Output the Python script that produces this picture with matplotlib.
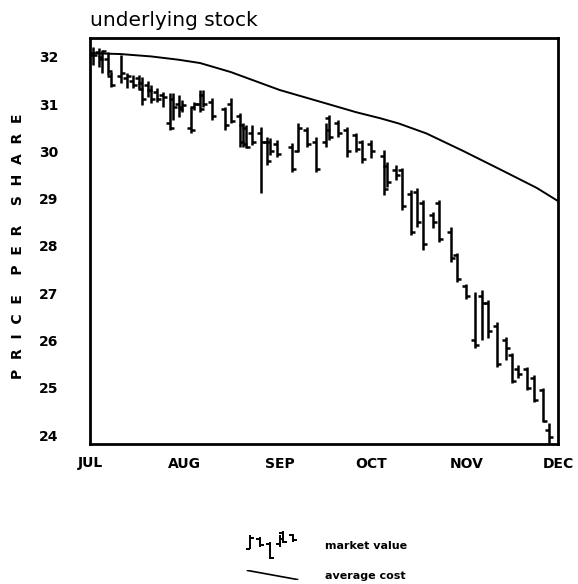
import numpy as np
import matplotlib.pyplot as plt

plt.rcParams['font.family'] = ['DejaVu Sans']

# trading days counted from Jul 1
days = [1, 3, 4, 6, 7, 10, 12, 14, 16, 17, 19, 20, 22, 24, 26, 27, 29, 30, 33, 34,
        36, 37, 40, 44, 46, 49, 50, 51, 53, 56, 58, 59, 61, 66, 68, 71, 74, 77, 78, 81,
        84, 87, 89, 92, 96, 97, 100, 102, 105, 107, 109, 112, 114, 118, 120, 123, 126,
        128, 130, 133, 136, 138, 140, 143, 145, 148, 150]
highs = [32.21, 32.19, 32.15, 32.10, 31.68, 32.04, 31.66, 31.62, 31.62, 31.58,
         31.50, 31.40, 31.34, 31.26, 31.24, 31.24, 31.20, 31.09, 30.94, 31.05,
         31.30, 31.30, 31.13, 30.94, 31.13, 30.81, 30.60, 30.56, 30.56, 30.52,
         30.30, 30.28, 30.24, 30.18, 30.60, 30.52, 30.30, 30.60, 30.77, 30.67,
         30.52, 30.39, 30.24, 30.24, 30.03, 29.78, 29.71, 29.65, 29.19, 29.23,
         28.97, 28.72, 28.97, 28.40, 27.85, 27.20, 27.03, 27.07, 26.86, 26.39,
         26.08, 25.73, 25.48, 25.44, 25.27, 25.00, 24.25]
lows = [31.83, 31.79, 31.66, 31.62, 31.37, 31.45, 31.34, 31.34, 31.30, 30.98,
        31.15, 31.03, 31.05, 30.94, 30.46, 30.67, 30.73, 30.84, 30.39, 30.88,
        30.84, 30.94, 30.67, 30.46, 30.60, 30.10, 30.10, 30.07, 30.14, 29.12,
        29.71, 29.93, 29.88, 29.57, 29.99, 30.10, 29.57, 30.10, 30.24, 30.30,
        29.88, 29.99, 29.76, 29.86, 29.08, 29.25, 29.40, 28.76, 28.23, 28.40,
        27.92, 28.38, 28.08, 27.66, 27.24, 26.88, 25.84, 26.00, 26.06, 25.44,
        25.59, 25.10, 25.20, 24.95, 24.70, 24.28, 23.83]
opens = [32.05, 32.10, 32.00, 31.95, 31.60, 31.60, 31.55, 31.50, 31.55, 31.45,
         31.40, 31.30, 31.25, 31.20, 30.60, 31.10, 31.00, 30.95, 30.50, 30.95,
         31.00, 31.20, 31.05, 30.90, 31.00, 30.75, 30.55, 30.50, 30.40, 30.40,
         30.20, 30.20, 30.15, 30.10, 30.00, 30.45, 30.20, 30.20, 30.70, 30.60,
         30.45, 30.35, 30.20, 30.15, 29.90, 29.70, 29.60, 29.60, 29.10, 29.15,
         28.90, 28.65, 28.90, 28.30, 27.80, 27.15, 26.00, 26.95, 26.80, 26.30,
         26.00, 25.70, 25.40, 25.40, 25.20, 24.95, 24.10]
closes = [32.05, 31.95, 32.12, 31.70, 31.40, 31.66, 31.60, 31.40, 31.32, 31.10,
          31.30, 31.10, 31.10, 31.15, 30.50, 30.95, 30.90, 30.98, 30.45, 31.00,
          30.90, 31.00, 30.75, 30.55, 30.65, 30.20, 30.15, 30.10, 30.20, 30.20,
          29.80, 30.00, 29.95, 29.62, 30.50, 30.15, 29.62, 30.45, 30.30, 30.40,
          30.00, 30.05, 29.85, 30.00, 29.20, 29.35, 29.50, 28.85, 28.30, 28.50,
          28.05, 28.50, 28.15, 27.75, 27.30, 26.95, 25.90, 26.80, 26.20, 25.50,
          25.85, 25.15, 25.30, 25.00, 24.75, 24.30, 23.95]

cost_days = [0, 10, 20, 29, 36, 46, 62, 78, 87, 95, 101, 110, 122, 135, 146, 153]
cost_vals = [32.08, 32.06, 32.01, 31.94, 31.87, 31.68, 31.30, 31.00, 30.83,
             30.70, 30.59, 30.38, 30.01, 29.59, 29.23, 28.95]

month_days = [0, 31, 62, 92, 123, 153]
month_labels = ['JUL', 'AUG', 'SEP', 'OCT', 'NOV', 'DEC']
price_ticks = [24, 25, 26, 27, 28, 29, 30, 31, 32]

W, H = 578, 584


def draw_ohlc(a, d, hi, lo, op, cl, tick=1.3, lw=1.8):
    d = np.asarray(d, dtype=float)
    a.vlines(d, lo, hi, color='black', lw=lw)
    a.hlines(op, d - tick, d, color='black', lw=lw)
    a.hlines(cl, d, d + tick, color='black', lw=lw)


fig = plt.figure(figsize=(W / 100, H / 100), dpi=100)
ax = fig.add_axes([90 / W, 1 - 444 / H, 468 / W, 406 / H])

draw_ohlc(ax, days, highs, lows, opens, closes)
ax.plot(cost_days, cost_vals, color='black', lw=1.4)

ax.set_xlim(0, 153)
ax.set_ylim(23.81, 32.40)
ax.set_xticks(month_days)
ax.set_xticklabels(month_labels)
ax.set_yticks(price_ticks)
ax.tick_params(length=0, labelsize=10)
ax.tick_params(axis='x', pad=9)
ax.tick_params(axis='y', pad=23)
for lab in ax.get_xticklabels() + ax.get_yticklabels():
    lab.set_fontweight('bold')
for s in ax.spines.values():
    s.set_linewidth(2)

ax.set_title('underlying stock', loc='left', fontsize=14.5, pad=9)
fig.text(18 / W, 1 - 246 / H, 'P  R  I  C  E    P  E  R    S  H  A  R  E',
         rotation=90, ha='center', va='center', fontsize=10, fontweight='bold')

# legend glyphs
lg = fig.add_axes([243 / W, 1 - 560 / H, 57 / W, 30 / H])
draw_ohlc(lg, days[34:40], highs[34:40], lows[34:40], opens[34:40], closes[34:40],
          tick=1.2, lw=1.4)
lg.axis('off')
ll = fig.add_axes([245 / W, 1 - 580 / H, 55 / W, 10 / H])
ll.plot(cost_days[-2:], cost_vals[-2:], color='black', lw=1.2)
ll.axis('off')

fig.text(325 / W, 1 - 546 / H, 'market value', ha='left', va='center',
         fontsize=8, fontweight='bold')
fig.text(325 / W, 1 - 576 / H, 'average cost', ha='left', va='center',
         fontsize=8, fontweight='bold')

fig.savefig('out.png', dpi=100)
